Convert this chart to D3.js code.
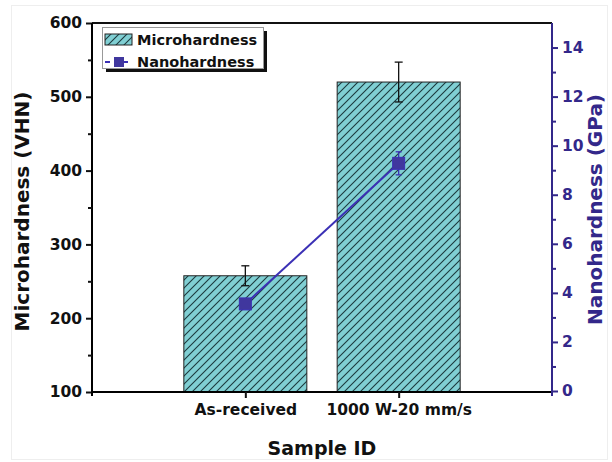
<!DOCTYPE html>
<html>
<head>
<meta charset="UTF-8">
<script src="https://cdnjs.cloudflare.com/ajax/libs/d3/7.8.5/d3.min.js"></script>
<style>
  body { margin: 0; background: #fff; }
  svg text { font-family: "DejaVu Sans", sans-serif; font-weight: bold; }
</style>
</head>
<body>
<div id="chart"></div>
<script>
const samples = ["As-received", "1000 W-20 mm/s"];
const microVals = [257.5, 520];
const microErr = [13.5, 27];
const nanoVals = [3.55, 9.28];
const nanoErr = [0.1, 0.47];
const leftTicks = [100, 200, 300, 400, 500, 600];
const rightTicks = [0, 2, 4, 6, 8, 10, 12, 14];

const W = 612, H = 462;
const m = { top: 23, right: 60, bottom: 70, left: 92 };
const purple = "#33288a";

const svg = d3.select("#chart").append("svg")
  .attr("width", W).attr("height", H);

// faint image border
svg.append("rect").attr("x", 11.5).attr("y", 5.5).attr("width", 596).attr("height", 454)
  .attr("fill", "none").attr("stroke", "#eee");

const defs = svg.append("defs");
const pat = defs.append("pattern").attr("id", "hatch")
  .attr("patternUnits", "userSpaceOnUse").attr("width", 8).attr("height", 8);
pat.append("rect").attr("width", 8).attr("height", 8).attr("fill", "#80cfd3");
pat.append("path").attr("d", "M-2,2 L2,-2 M0,8 L8,0 M6,10 L10,6")
  .attr("stroke", "#1c3a3e").attr("stroke-width", 1.1);

const x = d3.scalePoint().domain(samples).range([m.left, W - m.right]).padding(1);
const y = d3.scaleLinear().domain([100, 600]).range([H - m.bottom, m.top]);
const y2 = d3.scaleLinear().domain([0, 15]).range([H - m.bottom - 1, m.top]);
const barW = 123;

// bars
svg.selectAll(".bar").data(samples).join("rect")
  .attr("x", d => x(d) - barW / 2)
  .attr("y", (d, i) => y(microVals[i]))
  .attr("width", barW)
  .attr("height", (d, i) => y(100) - y(microVals[i]))
  .attr("fill", "url(#hatch)")
  .attr("stroke", "#222").attr("stroke-width", 1);

// micro error bars
samples.forEach((d, i) => {
  const g = svg.append("g").attr("stroke", "#111").attr("stroke-width", 1.3);
  const cx = x(d);
  const t = y(microVals[i] + microErr[i]), b = y(microVals[i] - microErr[i]);
  g.append("line").attr("x1", cx).attr("x2", cx).attr("y1", t).attr("y2", b);
  g.append("line").attr("x1", cx - 4).attr("x2", cx + 4).attr("y1", t).attr("y2", t);
  g.append("line").attr("x1", cx - 4).attr("x2", cx + 4).attr("y1", b).attr("y2", b);
});

// nano line
const line = d3.line().x((d, i) => x(samples[i])).y(d => y2(d));
svg.append("path").datum(nanoVals).attr("d", line)
  .attr("fill", "none").attr("stroke", "#3b30b5").attr("stroke-width", 2);

samples.forEach((d, i) => {
  const g = svg.append("g").attr("stroke", "#3b30b5").attr("stroke-width", 1.3);
  const cx = x(d);
  const t = y2(nanoVals[i] + nanoErr[i]), b = y2(nanoVals[i] - nanoErr[i]);
  g.append("line").attr("x1", cx).attr("x2", cx).attr("y1", t).attr("y2", b);
  g.append("line").attr("x1", cx - 3).attr("x2", cx + 3).attr("y1", t).attr("y2", t);
  g.append("line").attr("x1", cx - 3).attr("x2", cx + 3).attr("y1", b).attr("y2", b);
});
svg.selectAll(".nano").data(nanoVals).join("rect")
  .attr("x", (d, i) => x(samples[i]) - 6)
  .attr("y", d => y2(d) - 6)
  .attr("width", 12).attr("height", 12)
  .attr("fill", "#40379e").attr("stroke", "#3b30b5");

// frame top
svg.append("line").attr("x1", m.left).attr("x2", W - m.right)
  .attr("y1", m.top).attr("y2", m.top).attr("stroke", "#111").attr("stroke-width", 2);

// left axis
const gl = svg.append("g").attr("transform", `translate(${m.left},0)`)
  .call(d3.axisLeft(y).tickValues(leftTicks).tickSize(6).tickPadding(4));
gl.append("g").call(d3.axisLeft(y).tickValues([150, 250, 350, 450, 550]).tickSize(4).tickFormat(""));
gl.selectAll("path.domain").attr("stroke-width", 2).attr("d", `M0,${m.top}V${y(100) + 4}`);
gl.selectAll("line").attr("stroke-width", 2).attr("stroke", "#111");
gl.selectAll("text").attr("font-size", 15.5).attr("fill", "#111");

// bottom axis
const gb = svg.append("g").attr("transform", `translate(0,${y(100)})`)
  .call(d3.axisBottom(x).tickSize(6).tickPadding(6));
gb.select("path.domain").attr("stroke-width", 2).attr("d", `M${m.left},0H${W - m.right}`);
gb.selectAll("line").attr("stroke-width", 2).attr("stroke", "#111");
gb.selectAll("text").attr("font-size", 15.5).attr("fill", "#111");

// right axis
const gr = svg.append("g").attr("transform", `translate(${W - m.right},0)`)
  .call(d3.axisRight(y2).tickValues(rightTicks).tickSize(6).tickPadding(4));
gr.append("g").call(d3.axisRight(y2).tickValues([1, 3, 5, 7, 9, 11, 13]).tickSize(4).tickFormat(""));
gr.selectAll("path.domain").attr("stroke", purple).attr("stroke-width", 2)
  .attr("d", `M0,${m.top}V${y(100) + 4}`);
gr.selectAll("line").attr("stroke-width", 2).attr("stroke", purple);
gr.selectAll("text").attr("font-size", 15.5).attr("fill", purple);

// axis titles
svg.append("text").attr("transform", `translate(29,${(m.top + y(100)) / 2 + 4}) rotate(-90)`)
  .attr("text-anchor", "middle").attr("font-size", 20).attr("fill", "#111")
  .text("Microhardness (VHN)");
svg.append("text").attr("transform", `translate(602,${(m.top + y(100)) / 2 + 2}) rotate(-90)`)
  .attr("text-anchor", "middle").attr("font-size", 20).attr("fill", purple)
  .text("Nanohardness (GPa)");
svg.append("text").attr("x", 322).attr("y", 455)
  .attr("text-anchor", "middle").attr("font-size", 19).attr("fill", "#111")
  .text("Sample ID");

// legend
const lg = svg.append("g").attr("transform", "translate(102,27)");
lg.append("rect").attr("x", 4).attr("y", 4).attr("width", 161).attr("height", 41).attr("fill", "#111");
lg.append("rect").attr("x", 0.5).attr("y", 0.5).attr("width", 161).attr("height", 41)
  .attr("fill", "#fff").attr("stroke", "#999");
lg.append("rect").attr("x", 3).attr("y", 7).attr("width", 27).attr("height", 11)
  .attr("fill", "url(#hatch)").attr("stroke", "#222");
lg.append("line").attr("x1", 3).attr("x2", 30).attr("y1", 35).attr("y2", 35)
  .attr("stroke", "#3b30b5").attr("stroke-width", 2).attr("stroke-dasharray", "5,4");
lg.append("rect").attr("x", 12).attr("y", 30).attr("width", 10).attr("height", 10)
  .attr("fill", "#40379e");
lg.append("text").attr("x", 35).attr("y", 18).attr("font-size", 14.5).attr("fill", "#111").text("Microhardness");
lg.append("text").attr("x", 35).attr("y", 40).attr("font-size", 14.5).attr("fill", "#111").text("Nanohardness");
</script>
</body>
</html>
